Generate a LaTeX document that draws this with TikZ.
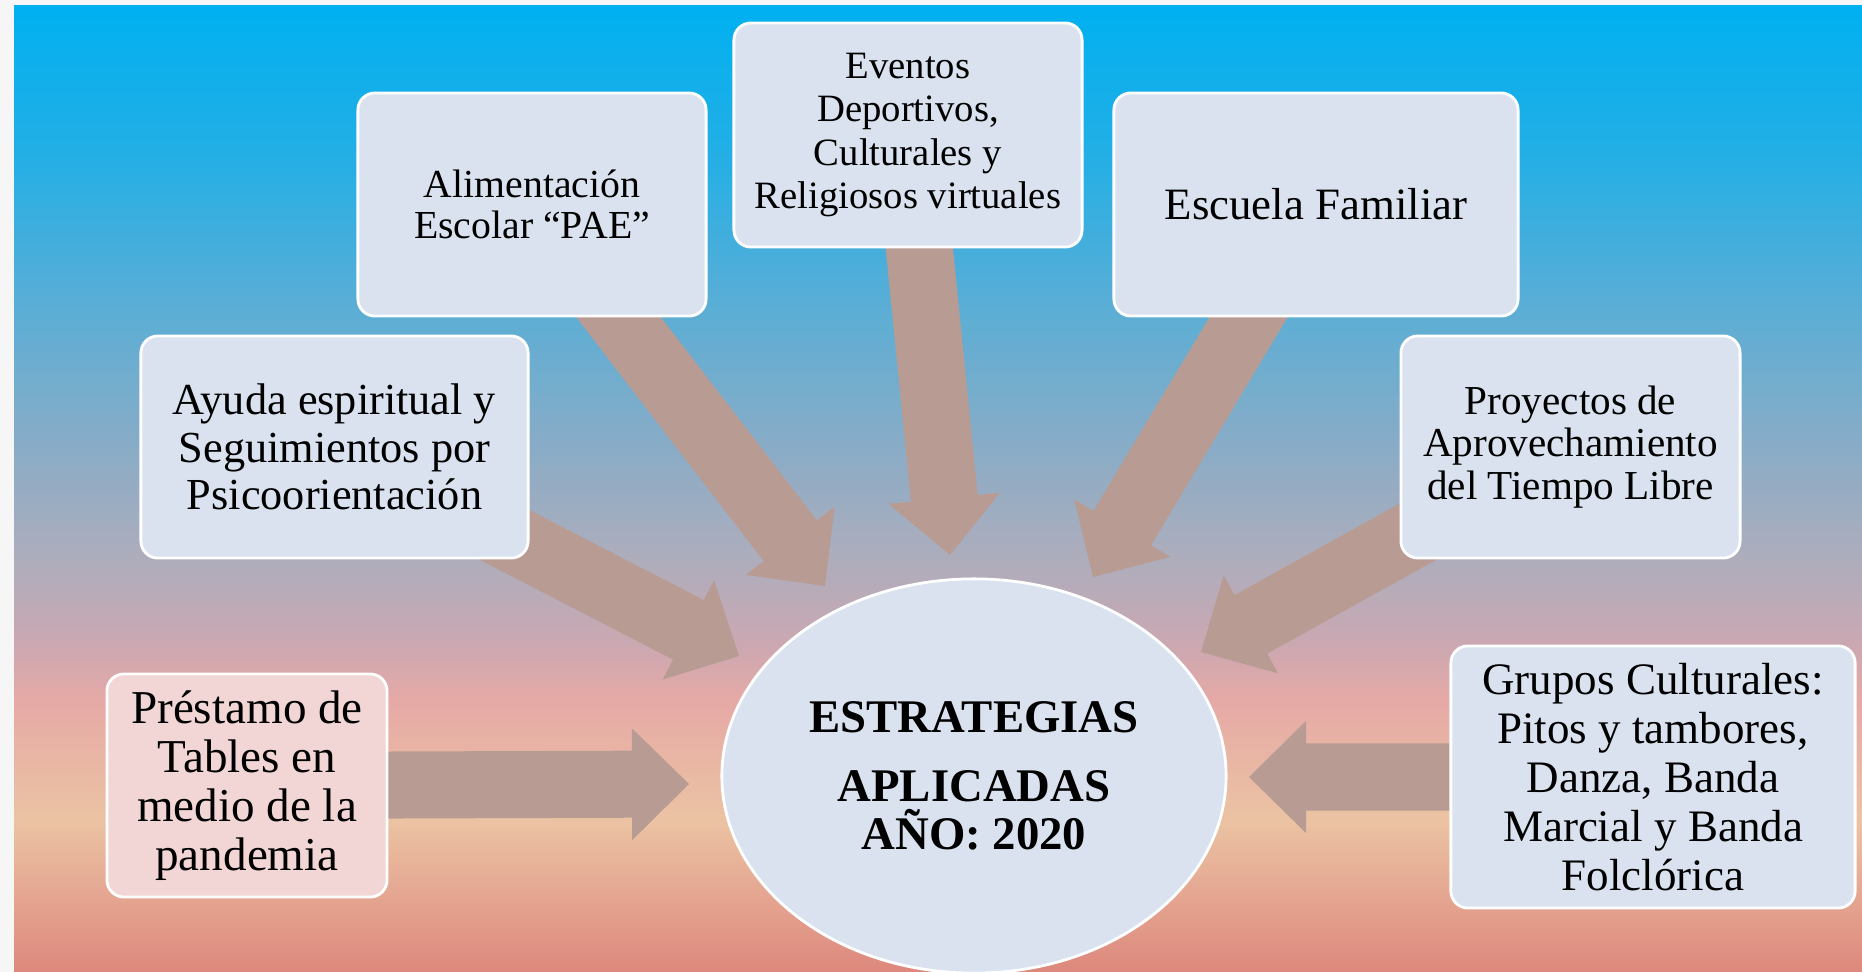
\documentclass[tikz,border=0pt]{standalone}
\usepackage{fontspec}
\setmainfont{Liberation Serif}
\usetikzlibrary{calc,shapes.geometric}

\definecolor{boxblue}{HTML}{D9E2EE}
\definecolor{boxpink}{HTML}{F2D6D5}
\definecolor{arrowtan}{HTML}{B89C94}
\definecolor{paper}{HTML}{F6F6F6}
\definecolor{bgcyan}{HTML}{00B0F0}
\definecolor{bgazure}{HTML}{22AFE6}
\definecolor{bgsky}{HTML}{58AED6}
\definecolor{bgsteel}{HTML}{8AACC6}
\definecolor{bggrey}{HTML}{AEADBC}
\definecolor{bgmauve}{HTML}{C9A8B2}
\definecolor{bgpink}{HTML}{E6A9A6}
\definecolor{bgpeach}{HTML}{EBC3A3}
\definecolor{bgcoral}{HTML}{E4A490}
\definecolor{bgsalmon}{HTML}{DD887C}

\pgfdeclareverticalshading{skyfade}{100bp}{color(0bp)=(bgsalmon); color(25bp)=(bgsalmon);
  color(28.7bp)=(bgcoral); color(32.85bp)=(bgpeach); color(39.05bp)=(bgpink);
  color(42.15bp)=(bgmauve); color(46.3bp)=(bggrey); color(52bp)=(bgsteel);
  color(59.75bp)=(bgsky); color(67.5bp)=(bgazure); color(75bp)=(bgcyan); color(100bp)=(bgcyan)}

\pgfdeclarelayer{backdrop}
\pgfdeclarelayer{arrows}
\pgfsetlayers{backdrop,arrows,main}

% wide arrow from a box centre to a tip
\newcommand{\blockarrow}[2]{%
  \fill[arrowtan] let \p1 = ($(#2)-(#1)$), \n1 = {atan2(\y1,\x1)} in
    ($(#1)+(\n1+90:0.335cm)$) -- ($(#2)+(\n1+180:0.57cm)+(\n1+90:0.335cm)$)
    -- ($(#2)+(\n1+180:0.57cm)+(\n1+90:0.56cm)$) -- (#2)
    -- ($(#2)+(\n1+180:0.57cm)+(\n1-90:0.56cm)$)
    -- ($(#2)+(\n1+180:0.57cm)+(\n1-90:0.335cm)$)
    -- ($(#1)+(\n1-90:0.335cm)$) -- cycle;}

\begin{document}
\begin{tikzpicture}[x=0.01cm,y=-0.01cm,
  box/.style={draw=white,line width=0.8pt,rounded corners=0.17cm,fill=boxblue,
    align=center,inner sep=0pt,minimum height=2.23cm},
  hub/.style={ellipse,draw=white,line width=0.8pt,fill=boxblue,inner sep=0pt,
    minimum width=5.04cm,minimum height=3.94cm,align=center,
    font=\bfseries\fontsize{13.3}{13.7}\selectfont}]
  \useasboundingbox (0,0) rectangle (1862,972);
  \begin{pgfonlayer}{backdrop}
    \fill[paper] (0,0) rectangle (1862,972);
    \shade[shading=skyfade] (14,5) rectangle (1862,972);
  \end{pgfonlayer}

  \node[hub] (hub) at (974,776) {ESTRATEGIAS\\[0.2cm]APLICADAS\\AÑO: 2020};

  \node[box,minimum width=3.48cm,font=\fontsize{11.3}{11.8}\selectfont]
    (pae) at (532,204.5) {Alimentación\\Escolar “PAE”};
  \node[box,minimum width=3.48cm,minimum height=2.24cm,font=\fontsize{11}{12.3}\selectfont]
    (eventos) at (908,135) {Eventos\\Deportivos,\\Culturales y\\Religiosos virtuales};
  \node[box,minimum width=4.04cm,font=\fontsize{12.75}{13.5}\selectfont]
    (escuela) at (1316,204.5) {Escuela Familiar};
  \node[box,minimum width=3.87cm,minimum height=2.22cm,font=\fontsize{12.6}{13.5}\selectfont]
    (ayuda) at (334.5,447) {Ayuda espiritual y\\Seguimientos por\\Psicoorientación};
  \node[box,minimum width=3.39cm,minimum height=2.22cm,font=\fontsize{11.7}{12.2}\selectfont]
    (proyectos) at (1570.5,447) {Proyectos de\\Aprovechamiento\\del Tiempo Libre};
  \node[box,fill=boxpink,minimum width=2.8cm,font=\fontsize{13.4}{13.9}\selectfont]
    (prestamo) at (247,785.5) {Préstamo de\\Tables en\\medio de la\\pandemia};
  \node[box,minimum width=4.04cm,minimum height=2.62cm,font=\fontsize{12.8}{13.9}\selectfont]
    (grupos) at (1653,777) {Grupos Culturales:\\Pitos y tambores,\\Danza, Banda\\Marcial y Banda\\Folclórica};

  \coordinate (paeTip) at (825,586);
  \coordinate (ayudaTip) at (739,656);
  \coordinate (eventosTip) at (950,555);
  \coordinate (escuelaTip) at (1093,577);
  \coordinate (proyectosTip) at (1201,652);
  \coordinate (prestamoTip) at (689,784);
  \coordinate (gruposTip) at (1249,777);

  \begin{pgfonlayer}{arrows}
    \foreach \src/\dst in {pae/paeTip,ayuda/ayudaTip,eventos/eventosTip,
        escuela/escuelaTip,proyectos/proyectosTip,prestamo/prestamoTip,grupos/gruposTip}
      \blockarrow{\src}{\dst};
  \end{pgfonlayer}
\end{tikzpicture}
\end{document}
